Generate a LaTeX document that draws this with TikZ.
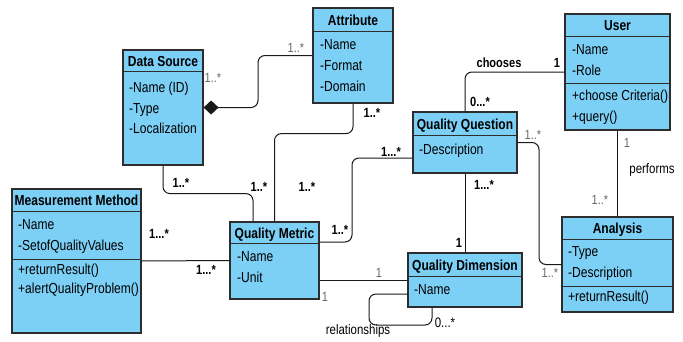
\documentclass[tikz,border=0pt]{standalone}
\usepackage{fontspec}
\setmainfont{Liberation Sans}[FakeStretch=0.83]
\usetikzlibrary{arrows.meta}
\definecolor{umlblue}{RGB}{124,207,245}
\definecolor{umledge}{RGB}{45,45,45}
\definecolor{multgray}{RGB}{105,105,105}

\tikzset{
  umlclass/.style={draw=umledge,fill=umlblue,line width=1.2bp,inner sep=0pt},
  umlsep/.style={draw=umledge,line width=1.2bp},
  umltitle/.style={anchor=base,inner sep=0pt,font=\fontsize{14.5bp}{16bp}\selectfont\bfseries},
  umltext/.style={anchor=north west,align=left,inner sep=0pt,font=\fontsize{14.5bp}{20.7bp}\selectfont},
  umllink/.style={draw=black!90,line width=1bp,rounded corners=7bp},
  multgray/.style={inner sep=0pt,text=multgray,font=\fontsize{13.3bp}{15bp}\selectfont},
  multbold/.style={inner sep=0pt,font=\fontsize{13.3bp}{15bp}\selectfont\bfseries},
  assoc/.style={inner sep=0pt,font=\fontsize{13.8bp}{15bp}\selectfont},
}

\begin{document}
\begin{tikzpicture}
\useasboundingbox (0,0) rectangle (683bp,-342bp);

% classes
\node (DS) at (163bp,-107.5bp)[umlclass,minimum width=80bp,minimum height=115bp] {};
\node (DSt) at (163bp,-66.2bp)[umltitle] {Data Source};
\draw [umlsep] ([yshift=-22bp]DS.north west) -- ([yshift=-22bp]DS.north east);
\node (DSa) at (129bp,-81.7bp)[umltext] {-Name (ID)\\-Type\\-Localization};

\node (AT) at (353bp,-55.5bp)[umlclass,minimum width=80bp,minimum height=95bp] {};
\node (ATt) at (353bp,-25.2bp)[umltitle] {Attribute};
\draw [umlsep] ([yshift=-24bp]AT.north west) -- ([yshift=-24bp]AT.north east);
\node (ATa) at (320bp,-39.7bp)[umltext] {-Name\\-Format\\-Domain};

\node (US) at (617.5bp,-72bp)[umlclass,minimum width=105bp,minimum height=116bp] {};
\node (USt) at (617.5bp,-30.7bp)[umltitle] {User};
\draw [umlsep] ([yshift=-23bp]US.north west) -- ([yshift=-23bp]US.north east);
\draw [umlsep] ([yshift=-70bp]US.north west) -- ([yshift=-70bp]US.north east);
\node (USa) at (572bp,-44.7bp)[umltext] {-Name\\-Role};
\node (USm) at (572bp,-89.7bp)[umltext] {+choose Criteria()\\+query()};

\node (QQ) at (465bp,-142.5bp)[umlclass,minimum width=104bp,minimum height=61bp] {};
\node (QQt) at (465bp,-129.2bp)[umltitle] {Quality Question};
\draw [umlsep] ([yshift=-24bp]QQ.north west) -- ([yshift=-24bp]QQ.north east);
\node (QQa) at (419bp,-143.7bp)[umltext] {-Description};

\node (MM) at (76.5bp,-261bp)[umlclass,minimum width=129bp,minimum height=144bp] {};
\node (MMt) at (76.5bp,-205.7bp)[umltitle] {Measurement Method};
\draw [umlsep] ([yshift=-23bp]MM.north west) -- ([yshift=-23bp]MM.north east);
\draw [umlsep] ([yshift=-71bp]MM.north west) -- ([yshift=-71bp]MM.north east);
\node (MMa) at (18bp,-219.7bp)[umltext] {-Name\\-SetofQualityValues};
\node (MMm) at (18bp,-263.7bp)[umltext,font=\fontsize{14.5bp}{19.5bp}\selectfont] {+returnResult()\\+alertQualityProblem()};

\node (QM) at (274.5bp,-260.5bp)[umlclass,minimum width=89bp,minimum height=77bp] {};
\node (QMt) at (274.5bp,-238.2bp)[umltitle] {Quality Metric};
\draw [umlsep] ([yshift=-22bp]QM.north west) -- ([yshift=-22bp]QM.north east);
\node (QMa) at (237bp,-251.7bp)[umltext] {-Name\\-Unit};

\node (QD) at (465bp,-280bp)[umlclass,minimum width=114bp,minimum height=54bp] {};
\node (QDt) at (465bp,-270.2bp)[umltitle] {Quality Dimension};
\draw [umlsep] ([yshift=-24bp]QD.north west) -- ([yshift=-24bp]QD.north east);
\node (QDa) at (414bp,-284.7bp)[umltext] {-Name};

\node (AN) at (617.5bp,-264.5bp)[umlclass,minimum width=111bp,minimum height=95bp] {};
\node (ANt) at (617.5bp,-233.7bp)[umltitle] {Analysis};
\draw [umlsep] ([yshift=-23bp]AN.north west) -- ([yshift=-23bp]AN.north east);
\draw [umlsep] ([yshift=-70bp]AN.north west) -- ([yshift=-70bp]AN.north east);
\node (ANa) at (568bp,-246.7bp)[umltext] {-Type\\-Description};
\node (ANm) at (568bp,-290.7bp)[umltext] {+returnResult()};

% associations
\draw [umllink,-{Diamond[length=15bp,width=14bp]}] (AT.west) -- (258bp,-55.5bp) -- (258bp,-107.5bp) -- (DS.east);
\draw [umllink] (AT.south) -- ++(0,-30bp) -| (QM.north);
\draw [umllink] (DS.south) -- ++(0,-28bp) -| ([xshift=-21.5bp]QM.north);
\draw [umllink] ([yshift=18.5bp]QM.east) -| (352bp,-200bp) |- ([yshift=-15.5bp]QQ.west);
\draw [umllink] ([yshift=-19.5bp]QM.east) -- (QD.west);
\draw [umllink] (QQ.south) -- (QD.north);
\draw [umllink] (US.west) -| (QQ.north);
\draw [umllink] (US.south) -- (AN.north);
\draw [umllink] (QQ.east) -| (539bp,-200bp) |- (AN.west);
\draw [umllink] ([yshift=-14bp]QD.west) -| (369bp,-325bp) -| ([xshift=-33bp]QD.south);
\draw [umllink] (MM.east) -- (QM.west);

% multiplicities and roles
\node (m1) at (213bp,-78bp)[multgray] {1..*};
\node (m2) at (296bp,-48bp)[multgray] {1..*};
\node (m3) at (372bp,-113bp)[multbold] {1..*};
\node (m4) at (181bp,-183bp)[multbold] {1..*};
\node (m5) at (259bp,-187bp)[multbold] {1..*};
\node (m6) at (307bp,-187bp)[multbold] {1..*};
\node (m7) at (391bp,-152bp)[multbold] {1...*};
\node (m8) at (340bp,-230bp)[multbold] {1..*};
\node (m9) at (325bp,-297bp)[multgray] {1};
\node (m10) at (379bp,-273bp)[multgray] {1};
\node (m11) at (445bp,-323bp)[assoc] {0...*};
\node (r1) at (358bp,-331bp)[assoc] {relationships};
\node (m12) at (484bp,-185bp)[multbold] {1...*};
\node (m13) at (459bp,-243bp)[multbold] {1};
\node (r2) at (499bp,-63bp)[multbold] {chooses};
\node (m14) at (557bp,-63bp)[multbold] {1};
\node (m15) at (480bp,-102bp)[multbold] {0...*};
\node (m16) at (533bp,-135bp)[multgray] {1..*};
\node (m17) at (627bp,-143bp)[multgray] {1};
\node (r3) at (652bp,-170bp)[assoc] {performs};
\node (m18) at (600bp,-200bp)[multgray] {1..*};
\node (m19) at (550bp,-273bp)[multgray] {1..*};
\node (m20) at (159bp,-234bp)[multbold] {1...*};
\node (m21) at (206bp,-270bp)[multbold] {1...*};
\end{tikzpicture}
\end{document}
